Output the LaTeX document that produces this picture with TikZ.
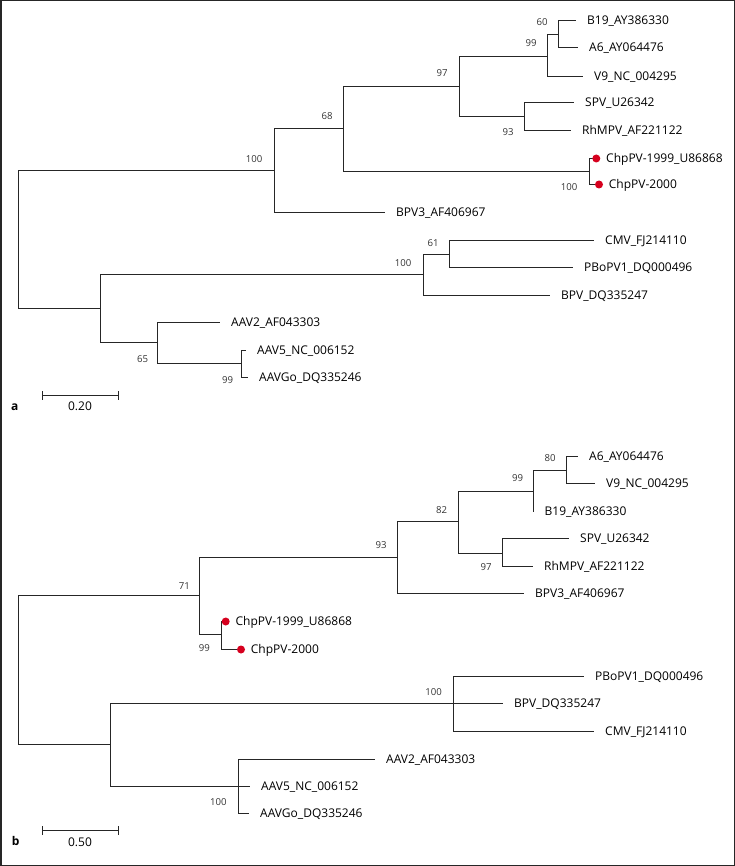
\documentclass[tikz,border=0pt]{standalone}
\usepackage{fontspec}
\setmainfont{Open Sans}
\usetikzlibrary{arrows.meta,positioning}
\definecolor{chpred}{RGB}{214,0,30}
\newcommand{\tipfnt}{\fontsize{12}{14}\selectfont}
\newcommand{\bsfnt}{\fontsize{9.6}{11}\selectfont}
\tikzset{
  branch/.style   = {black!85, line width=1pt},
  tiplbl/.style   = {font=\tipfnt, inner sep=0pt, text height=8.6pt, text depth=0pt},
  bslbl/.style    = {font=\bsfnt, text=black!80, inner sep=0pt},
  chpdot/.style   = {fill=chpred},
  scalebar/.style = {black!85, line width=1pt, arrows={Bar[width=8.4pt]-Bar[width=8.4pt]}},
  panellbl/.style = {font=\tipfnt\bfseries, inner sep=0pt},
  outerbox/.style = {black!85, line width=1.4pt}
}

\begin{document}
\begin{tikzpicture}[x=1pt, y=-1pt, node distance=11pt]
  \useasboundingbox (0,0) rectangle (735,866);
  \draw[outerbox] (0.8,0.8) rectangle (734.2,865.2);

  % panel a
  \coordinate (ra)  at (18.5,239.5);
  \coordinate (a1)  at (274.5,170.5);
  \coordinate (a2)  at (343.5,128.5);
  \coordinate (a3)  at (459.5,86.5);
  \coordinate (a4)  at (547.5,56.5);
  \coordinate (a5)  at (558.5,34.5);
  \coordinate (a6)  at (524.5,116.5);
  \coordinate (a7)  at (589.5,171.5);
  \coordinate (a8)  at (100.5,308.5);
  \coordinate (a9)  at (423.5,274.5);
  \coordinate (a10) at (449.5,254.5);
  \coordinate (a11) at (157.5,342.5);
  \coordinate (a12) at (241.5,363.5);
  \coordinate (tB19a)   at (576,20.5);
  \coordinate (tA6a)    at (578,47.5);
  \coordinate (tV9a)    at (583,76.5);
  \coordinate (tSPVa)   at (574,102.5);
  \coordinate (tRha)    at (571,130.5);
  \coordinate (tC1a)    at (596.3,158.5);
  \coordinate (tC2a)    at (599,184.5);
  \coordinate (tBPV3a)  at (385,212.5);
  \coordinate (tCMVa)   at (594,240.5);
  \coordinate (tPBoa)   at (573,267.5);
  \coordinate (tBPVa)   at (550,295.5);
  \coordinate (tAAV2a)  at (220,322.5);
  \coordinate (tAAV5a)  at (246,350.5);
  \coordinate (tAAVGoa) at (248,377.5);
  \foreach \p/\c in {ra/a1, a1/a2, a1/tBPV3a, a2/a3, a2/a7, a3/a4, a3/a6,
                     a4/a5, a4/tV9a, a5/tB19a, a5/tA6a, a6/tSPVa, a6/tRha,
                     a7/tC1a, a7/tC2a, ra/a8, a8/a9, a8/a11, a9/a10, a9/tBPVa,
                     a10/tCMVa, a10/tPBoa, a11/tAAV2a, a11/a12,
                     a12/tAAV5a, a12/tAAVGoa}
    \draw[branch] (\p) |- (\c);
  \foreach \t/\s in {tB19a/B19\_AY386330, tA6a/A6\_AY064476, tV9a/V9\_NC\_004295,
                     tSPVa/SPV\_U26342, tRha/RhMPV\_AF221122, tBPV3a/BPV3\_AF406967,
                     tCMVa/CMV\_FJ214110, tPBoa/PBoPV1\_DQ000496, tBPVa/BPV\_DQ335247,
                     tAAV2a/AAV2\_AF043303, tAAV5a/AAV5\_NC\_006152,
                     tAAVGoa/AAVGo\_DQ335246}
    \node[tiplbl, right=of \t] (l\t) {\s};
  \fill[chpdot] (tC1a) circle (4pt);
  \fill[chpdot] (tC2a) circle (4pt);
  \node[tiplbl, right=9.7pt of tC1a] (ltC1a) {ChpPV-1999\_U86868};
  \node[tiplbl, right=9.7pt of tC2a] (ltC2a) {ChpPV-2000};
  \foreach \n/\x/\y/\v in {bsA1/254/159/100, bsA2/327/116/68, bsA3/442/73/97,
                           bsA4/531/43/99, bsA5/542/22/60, bsA6/508/132/93,
                           bsA7/569/187/100, bsA9/403/263.3/100, bsA10/433/243.3/61,
                           bsA11/142.7/359.3/65, bsA12/227.7/379.7/99}
    \node[bslbl] (\n) at (\x,\y) {\v};
  \coordinate (sa0) at (41.7,395.5);
  \coordinate (sa1) at (118.7,395.5);
  \draw[scalebar] (sa0) -- (sa1);
  \node[font=\tipfnt, inner sep=0pt] (sclA) at (80,406.5) {0.20};
  \node[panellbl] (pa) at (14.7,407) {a};

  % panel b
  \coordinate (rb)  at (18.5,670);
  \coordinate (b1)  at (199.5,595.5);
  \coordinate (b2)  at (397.5,557.5);
  \coordinate (b3)  at (458.5,521.5);
  \coordinate (b4)  at (533.5,491.5);
  \coordinate (b5)  at (566.5,470.5);
  \coordinate (b6)  at (502.5,553.5);
  \coordinate (b7)  at (221.5,634.5);
  \coordinate (b8)  at (110.5,744.5);
  \coordinate (b9)  at (453.5,703.5);
  \coordinate (b10) at (238.5,786.5);
  \coordinate (tA6b)    at (578,456.5);
  \coordinate (tV9b)    at (595,483.5);
  \coordinate (tB19b)   at (533.5,511.5);
  \coordinate (tSPVb)   at (569,538.5);
  \coordinate (tRhb)    at (533,566.5);
  \coordinate (tBPV3b)  at (524,593.5);
  \coordinate (tC1b)    at (225.7,621.5);
  \coordinate (tC2b)    at (241,649.5);
  \coordinate (tPBob)   at (584,676.5);
  \coordinate (tBPVb)   at (503,703.5);
  \coordinate (tCMVb)   at (594,731.5);
  \coordinate (tAAV2b)  at (375,759.5);
  \coordinate (tAAV5b)  at (250,786.5);
  \coordinate (tAAVGob) at (249,813.5);
  \foreach \p/\c in {rb/b1, b1/b2, b1/b7, b2/b3, b2/tBPV3b, b3/b4, b3/b6,
                     b4/b5, b4/tB19b, b5/tA6b, b5/tV9b, b6/tSPVb, b6/tRhb,
                     b7/tC1b, b7/tC2b, rb/b8, b8/b9, b8/b10, b9/tPBob, b9/tBPVb,
                     b9/tCMVb, b10/tAAV2b, b10/tAAV5b, b10/tAAVGob}
    \draw[branch] (\p) |- (\c);
  \foreach \t/\s in {tA6b/A6\_AY064476, tV9b/V9\_NC\_004295, tB19b/B19\_AY386330,
                     tSPVb/SPV\_U26342, tRhb/RhMPV\_AF221122, tBPV3b/BPV3\_AF406967,
                     tPBob/PBoPV1\_DQ000496, tBPVb/BPV\_DQ335247, tCMVb/CMV\_FJ214110,
                     tAAV2b/AAV2\_AF043303, tAAV5b/AAV5\_NC\_006152,
                     tAAVGob/AAVGo\_DQ335246}
    \node[tiplbl, right=of \t] (l\t) {\s};
  \fill[chpdot] (tC1b) circle (4pt);
  \fill[chpdot] (tC2b) circle (4pt);
  \node[tiplbl, right=9.7pt of tC1b] (ltC1b) {ChpPV-1999\_U86868};
  \node[tiplbl, right=9.7pt of tC2b] (ltC2b) {ChpPV-2000};
  \foreach \n/\x/\y/\v in {bsB1/184.3/585.7/71, bsB2/381/545.3/93, bsB3/441.7/510/82,
                           bsB4/517.7/478/99, bsB5/550/458.3/80, bsB6/486/566.7/97,
                           bsB7/204.3/648.3/99, bsB9/433.7/691.7/100, bsB10/218.3/801.7/100}
    \node[bslbl] (\n) at (\x,\y) {\v};
  \coordinate (sb0) at (41.7,830.5);
  \coordinate (sb1) at (118.7,830.5);
  \draw[scalebar] (sb0) -- (sb1);
  \node[font=\tipfnt, inner sep=0pt] (sclB) at (80,842) {0.50};
  \node[panellbl] (pb) at (15.7,840.5) {b};
\end{tikzpicture}
\end{document}
